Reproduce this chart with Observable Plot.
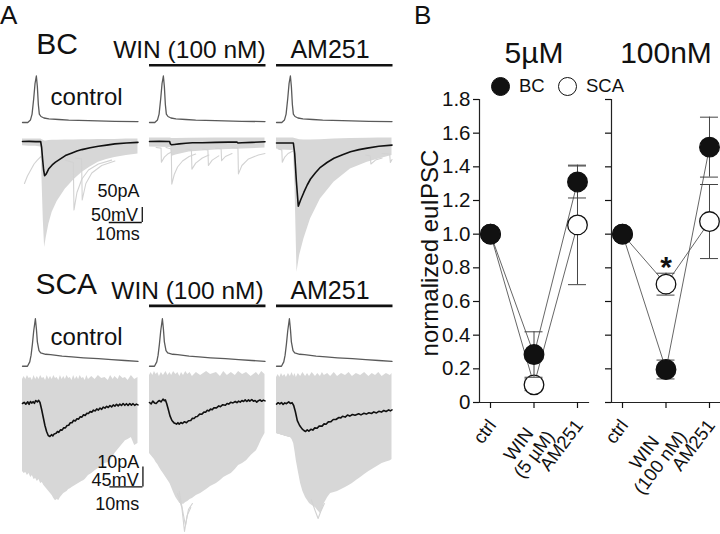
<!DOCTYPE html>
<html><head><meta charset="utf-8">
<script src="https://cdn.jsdelivr.net/npm/d3@7"></script>
<script src="https://cdn.jsdelivr.net/npm/@observablehq/plot@0.6"></script>
<style>
body{margin:0;background:#fff;}
#fig{position:relative;width:720px;height:534px;overflow:hidden;background:#fff;font-family:'Liberation Sans',Arial,Helvetica,sans-serif;color:#111;}
.lab{position:absolute;line-height:1;white-space:nowrap;}
</style></head>
<body><div id="fig"></div>
<script>
// ---------- Panel B data ----------
const conditions = ["ctrl", "WIN", "AM251"];
const labels5uM = ["ctrl", "WIN\u00a0\u00a0\n(5 µM)", "AM251"];
const labels100nM = ["ctrl", "WIN\u00a0\u00a0\u00a0\u00a0\n(100 nM)", "AM251"];
const yTicks = [0, 0.2, 0.4, 0.6, 0.8, 1.0, 1.2, 1.4, 1.6, 1.8];
const bc5 = [1.0, 0.285, 1.31];
const bc5Err = [0, 0.135, 0.095];
const sca5 = [1.0, 0.105, 1.055];
const sca5Err = [0, 0.035, 0.355];
const bc100 = [1.0, 0.196, 1.517];
const bc100Err = [0, 0.056, 0.178];
const sca100 = [1.0, 0.703, 1.075];
const sca100Err = [0, 0.065, 0.22];
const star100 = [{cond: "WIN", v: 0.80, label: "*"}];

// ---------- Panel A data (time in ms; AP in mV; current in pA) ----------
const traceConds = ["control", "WIN", "AM251"];
const apBC = [[0,0],[1.6,0],[2.4,8],[2.9,28],[3.4,80],[3.8,130],[4.2,155],[4.5,120],[4.8,60],[5.1,28],[5.6,20],[6.5,15],[8,12],[11,10],[14,8],[20,6],[28,4],[35,3]];
const apSCA = [[0,0],[1.5,0],[2.2,10],[2.6,25],[3.0,50],[3.4,80],[3.9,107],[4.2,85],[4.5,55],[5.0,35],[5.5,30],[7,27],[8.5,26],[12,23],[15,21],[18.5,19],[23,17],[27,15],[31,13],[35,11]];

const bcMeanControl = [[0,0],[2,0.5],[4,-0.5],[5.5,0],[5.8,-20],[6.1,-60],[6.4,-95],[6.7,-114],[7.2,-108],[7.9,-92],[9,-78],[10,-69],[11.5,-58],[13,-47],[15,-38],[16.5,-32],[18,-27],[20.5,-21],[23,-16],[25.5,-12],[28,-8],[31.5,-5],[35,-3]];
const bcMeanWIN = [[0,0],[3,0.5],[6.1,0],[6.3,-8],[6.7,-11],[7.5,-10],[9,-8],[11,-6],[13,-4],[16,-4],[20,-3],[24,-2],[26.5,-2],[26.8,-5],[28,-4],[31,-3],[35,-1]];
const bcMeanAM251 = [[0,-5],[3,-5],[5.1,-5],[5.5,-40],[6,-130],[6.6,-216],[7.3,-195],[8.3,-169],[9.3,-145],[10.3,-125],[11.8,-104],[13.3,-86],[15.3,-70],[17.4,-56],[20,-44],[22.4,-34],[25,-27],[27.5,-22],[31,-16],[35,-12]];

const bcEnvControl = [[0,8,-14],[2,8,-16],[4,8,-16],[5.6,8,-18],[5.9,6,-120],[6.3,4,-260],[6.7,2,-353],[7.2,2,-320],[8,3,-275],[9,4,-236],[10.5,4,-200],[13,5,-158],[15.5,5,-128],[18,6,-103],[20.5,6,-85],[23,7,-69],[25.5,7,-60],[28,7,-53],[31.5,8,-47],[35,8,-42]];
const bcEnvWIN = [[0,12,-18],[6.4,12,-20],[6.7,10,-50],[8,10,-45],[12,11,-35],[20,12,-28],[35,12,-22]];
const bcEnvAM251 = [[0,12,-25],[1.5,12,-28],[5.1,12,-30],[5.6,10,-150],[6.2,8,-436],[7,6,-380],[8.3,5,-325],[10.3,5,-258],[13.3,6,-192],[17.4,8,-136],[22.4,10,-92],[27.5,11,-69],[31,12,-58],[35,12,-47]];

const bcSpikesControl = [
  [[0.6,-140],[1.5,-115],[2.5,-95],[3.5,-75],[4.5,-62],[5.6,-50]],
  [[13,-62],[15.4,-70],[15.6,-228],[16.5,-170],[18,-125],[20,-95],[23,-75],[27,-62]],
  [[16,-55],[17.9,-58],[18.1,-195],[19.2,-140],[21,-105],[24,-80],[28,-65]]
];
const bcSpikesWIN = [
  [[2,-20],[3.5,-22],[3.6,-69],[4.5,-52],[5.5,-42],[6.5,-36]],
  [[5,-20],[6.6,-25],[6.75,-142],[7.5,-110],[8.5,-85],[10,-65],[12,-50],[14,-42]],
  [[11,-25],[12.7,-28],[12.85,-92],[14,-72],[16,-55],[18,-45]],
  [[16,-25],[17.7,-28],[17.85,-80],[19,-62],[21,-48]],
  [[20,-22],[21.7,-24],[21.85,-64],[23,-50],[25,-40]],
  [[25,-20],[26.8,-22],[26.95,-108],[28,-80],[30,-58],[33,-45],[35,-40]]
];
const bcSpikesAM251 = [
  [[0.5,-25],[1.6,-28],[1.75,-69],[2.5,-52],[3.5,-40],[5,-32]],
  [[27,-45],[28.4,-48],[28.6,-75],[30,-62],[32,-55]],
  [[32,-40],[34.3,-42],[34.5,-70],[35,-60]]
];

const scaMeanControl = [[0,0],[0.5,0.6],[1,-0.3],[1.6,0.8],[2,-0.4],[2.4,1],[2.8,0.2],[3.2,0.9],[3.6,0.1],[4,1.5],[4.5,0.8],[4.9,1.6],[5.3,0.5],[5.8,-3],[6.3,-7],[6.8,-11],[7.3,-14],[7.8,-16],[8.3,-16.5],[8.8,-15.6],[9.2,-16.2],[9.6,-15.2],[10.2,-14.9],[10.6,-14],[11,-14.4],[11.5,-13.2],[12,-13.3],[12.5,-12.1],[13,-12.2],[13.5,-11],[14,-10.9],[14.5,-9.6],[15,-9.6],[15.5,-8.4],[16,-8.7],[16.5,-7.6],[17,-7.8],[17.5,-6.6],[18,-6.8],[18.5,-5.6],[19,-6],[19.5,-4.9],[20,-5],[20.5,-4],[21,-4.4],[21.5,-3.3],[22,-3.7],[22.5,-2.7],[23,-3.3],[23.5,-2.3],[24,-2.9],[24.5,-1.8],[25,-2.3],[25.5,-1.4],[26,-2],[26.5,-1],[27,-1.7],[27.5,-0.7],[28,-1.3],[28.5,-0.4],[29,-1.2],[29.5,-0.3],[30,-1],[30.5,0],[31,-0.9],[31.5,-0.1],[32,-1],[32.5,0],[33,-0.8],[33.5,-0.1],[34,-0.9],[34.5,-0.3],[35,-0.7]];
const scaMeanWIN = [[0,0.5],[0.5,-0.2],[1,1.2],[1.5,0.3],[2,0],[2.5,0.9],[3,1.5],[3.5,0.8],[4.1,2.2],[4.5,1.4],[4.8,1.8],[5.2,0],[5.7,-3],[6.2,-6.2],[6.8,-8.5],[7.5,-9.8],[8.2,-10.3],[8.6,-9.6],[9,-10.3],[9.5,-9.5],[10,-10],[10.6,-9.1],[11.2,-9.6],[11.8,-8.6],[12.5,-8.5],[13,-7.4],[13.5,-7.5],[14,-6.6],[14.5,-6.5],[15.2,-5.3],[15.8,-5.4],[16.5,-4.3],[17,-4.4],[17.5,-3.4],[18,-3.7],[18.5,-2.8],[19,-3.1],[19.5,-2.2],[20.3,-2.2],[21,-1.2],[21.5,-1.6],[22.2,-0.6],[23,-0.9],[23.5,0],[24,-0.3],[24.6,0.6],[25.3,0.3],[26,1],[26.5,0.4],[27,1.2],[27.5,0.7],[28,1.5],[28.5,1],[29,1.8],[29.5,1],[30,1.8],[30.4,1.2],[31,2],[31.5,1.1],[32,1.5],[32.5,0.7],[33,1.4],[33.5,1.8],[34,1.1],[34.5,1.7],[35,1.3]];
const scaMeanAM251 = [[0,-0.3],[0.5,0.4],[1,-0.2],[1.5,0.5],[2,-0.5],[2.5,0.3],[3,-0.1],[3.7,0.8],[4.2,0],[4.7,0.4],[5.2,-1],[5.7,-4],[6.3,-8.6],[7,-11],[7.8,-12.8],[8.3,-13.5],[8.8,-14],[9.3,-13.2],[9.8,-13.8],[10.4,-12.9],[11,-13.3],[11.6,-12.2],[12.3,-12.4],[12.9,-11.3],[13.8,-11.3],[14.4,-10.2],[15,-10.4],[15.7,-9.2],[16.5,-9.1],[17.2,-8],[18,-8],[18.9,-7],[19.5,-7.2],[20,-6.4],[20.8,-6.8],[21.5,-5.8],[22.2,-6.3],[23,-5.5],[23.8,-5.9],[24.9,-5.1],[25.6,-5.7],[26.5,-4.9],[27.2,-5.3],[28,-4.6],[28.8,-5],[29.5,-4.2],[30.3,-4.7],[31,-3.9],[31.8,-4.3],[32.5,-3.5],[33.2,-4],[34,-3.2],[34.5,-3.7],[35,-3.2]];

const scaEnvControl = [[0,12,-34],[0.5,13.5,-35],[1,12,-34.5],[1.5,14,-36],[2,12.5,-35],[2.5,13,-37],[3,11.5,-36],[3.5,14,-38],[4,12,-37.5],[4.5,13.5,-39],[5,12,-38],[5.5,14,-40],[6,12.5,-39.5],[6.5,13,-41],[7,11.5,-42],[7.5,14,-43],[8,12,-44],[8.5,13.5,-45],[9,12,-46],[9.5,14,-47.5],[10,12.5,-48.6],[10.5,13,-48],[11,11.5,-48.5],[11.5,14,-47],[12,12,-46],[12.5,13.5,-45],[13,12,-44.5],[13.5,14,-44],[14,12.5,-43],[14.5,13,-42.6],[15,11.5,-42],[15.5,14,-41.5],[16,12,-41],[16.5,13.5,-40.5],[17,12,-40],[17.5,14,-39.5],[18,12.5,-39],[18.5,13,-38.6],[19,11.5,-38],[19.5,14,-37],[20,12,-36],[21,13.5,-35],[22,12,-33.6],[23,14,-32.5],[24,12.5,-31],[25,13,-30],[26,11.5,-29.5],[26.7,14,-28.6],[27.5,12,-26.5],[28,13.5,-25],[29,12,-23],[29.5,14,-22],[30.5,12.5,-20],[31.2,13,-18.6],[32,11.5,-18],[33,14,-17],[34,12,-21],[35,13,-20]];
const scaEnvWIN = [[0,14,-25],[0.5,15.5,-26],[1,14,-27],[1.5,16,-28],[2,14.5,-29.5],[2.5,15.5,-30.5],[3,13.5,-32],[3.6,15.5,-33.6],[4.2,14,-35],[5,16,-37],[5.6,14,-38.5],[6.2,15.5,-40],[6.7,14,-42],[7.3,16,-44.5],[8,14.5,-47],[8.6,15.5,-48.5],[9.2,13.5,-50],[9.7,15.5,-50],[10.3,14,-50.5],[11,16,-49.5],[11.6,14.5,-49],[12.3,15.5,-48],[13,13.5,-47.5],[14.2,15.5,-46],[15.5,14,-45],[17.3,16,-43],[18.5,14.5,-41.5],[20.3,15.5,-40],[21.5,13.5,-38.5],[22.5,16,-37],[23.6,14,-36],[24.8,15.5,-35],[26,14,-33],[27,16,-31],[28.2,14.5,-30],[29.4,15.5,-28.6],[30.8,13.5,-26],[32.4,15.5,-23.6],[33.2,14,-21],[34,16,-18],[35,14.5,-15]];
const scaEnvAM251 = [[0,13,-15],[0.5,14.5,-15.5],[1,13,-15.5],[1.5,15,-16],[2,13.5,-16],[2.5,14.5,-16.5],[3,13,-16.5],[3.6,15,-17],[4.2,13.5,-17],[4.7,15.5,-18],[5.2,13.5,-20],[5.6,15,-24],[6,13,-28.6],[6.6,15,-34],[7.3,13.5,-40],[8,15.5,-44],[8.8,13.5,-47],[9.4,15,-48.5],[10,13.5,-50],[10.8,15.5,-51],[11.8,13.5,-52],[12.5,15,-53.5],[13.3,13.5,-55],[13.9,15.5,-53],[14.5,14,-50],[15.5,15,-47],[16.4,13.5,-45],[17.5,15.5,-44.5],[18.5,13.5,-44],[19.7,15,-43],[20.9,14,-42],[22,15.5,-41],[23,13.5,-40],[24.2,15,-38.5],[25.5,14,-37],[26.7,15.5,-35.5],[28,13.5,-34],[29,15,-33],[30,14,-32],[31,15.5,-31],[32,13.5,-30],[33.3,15,-29.3],[34.5,14,-28.6],[35,15,-28]];
const scaSpikesWIN = [
  [[8.5,-45],[9.8,-52],[10.6,-64],[11.4,-56],[12.5,-52]],
  [[9,-44],[10.2,-55],[10.9,-61],[11.8,-53],[13,-50]]
];
const scaSpikesAM251 = [
  [[10.5,-48],[11.8,-54],[12.6,-57.5],[13.4,-54],[14.5,-50]]
];

// scale bars (ms, pA) and labels
const barBC = {t: [26.3, 36.3], i: [-270, -220]};
const barSCA = {t: [26.5, 36.5], i: [-41.7, -31.7]};
const barLabelsBC = [{t: 35.5, v: -185, label: "50pA"}, {t: 35.0, v: -266, label: "50mV"}, {t: 35.5, v: -328, label: "10ms"}];
const barLabelsSCA = [{t: 35.4, v: -32, label: "10pA"}, {t: 35.2, v: -41.2, label: "45mV"}, {t: 35.4, v: -53.4, label: "10ms"}];
const drugBars = [{cond: "WIN", t1: 0, t2: 35.3}, {cond: "AM251", t1: 0, t2: 35.3}];

// ---------- helpers ----------
const FONT = "'Liberation Sans', Arial, Helvetica, sans-serif";
const fig = document.getElementById("fig");
function put(el, x, y) { el.style.position = "absolute"; el.style.left = x + "px"; el.style.top = y + "px"; fig.appendChild(el); }
function label(text, x, baseline, size, anchor = "start", extra = "") {
  const d = document.createElement("div");
  d.className = "lab"; d.textContent = text;
  d.style.fontSize = size + "px";
  d.style.left = x + "px"; d.style.top = (baseline - 0.8465 * size) + "px";
  if (anchor === "middle") d.style.transform = "translateX(-50%)";
  if (anchor === "end") d.style.transform = "translateX(-100%)";
  if (extra) d.style.cssText += extra;
  fig.appendChild(d);
  return d;
}
const pts = (arr, cond, id = 0) => arr.map(([t, v]) => ({cond, t, v, id: cond + id}));
const env = (arr, cond) => arr.map(([t, hi, lo]) => ({cond, t, hi, lo}));

function tracePlot(marks, [lo, hi], k, zeroPx) {
  const mt = 40, mb = 40;
  const el = Plot.plot({
    width: 400, height: (hi - lo) * k + mt + mb,
    marginLeft: 22, marginRight: 7.5, marginTop: mt, marginBottom: mb,
    style: {background: "transparent", overflow: "visible", fontFamily: FONT},
    x: {domain: [0, 35.3], axis: null},
    y: {domain: [lo, hi], axis: null},
    fx: {domain: traceConds, axis: null, paddingInner: 0.083, paddingOuter: 0, round: false},
    marks
  });
  put(el, 0, zeroPx - hi * k - mt);
}

function apMarks(ap, rowLabel, rowLabelPos, winPos, amPos, ctrlPos, barV) {
  const apData = traceConds.flatMap(c => pts(ap, c));
  return [
    Plot.line(apData, {x: "t", y: "v", fx: "cond", z: "id", stroke: "#5a5a5a", strokeWidth: 1.3}),
    Plot.ruleY(drugBars, {fx: "cond", x1: "t1", x2: "t2", y: barV, stroke: "#111", strokeWidth: 2.6}),
    Plot.text([{cond: "control", ...rowLabelPos, label: rowLabel}], {fx: "cond", x: "t", y: "v", text: "label", textAnchor: "start", lineAnchor: "bottom", fontSize: 30, fill: "#111"}),
    Plot.text([{cond: "WIN", ...winPos, label: "WIN (100 nM)"}], {fx: "cond", x: "t", y: "v", text: "label", textAnchor: "end", lineAnchor: "bottom", fontSize: 24.5, fill: "#111"}),
    Plot.text([{cond: "AM251", ...amPos, label: "AM251"}], {fx: "cond", x: "t", y: "v", text: "label", textAnchor: "start", lineAnchor: "bottom", fontSize: 25, fill: "#111"}),
    Plot.text([{cond: "control", ...ctrlPos, label: "control"}], {fx: "cond", x: "t", y: "v", text: "label", textAnchor: "start", lineAnchor: "bottom", fontSize: 24, fill: "#111"})
  ];
}

function currentMarks(means, envs, spikes, bar, barLabels) {
  const meanData = traceConds.flatMap((c, i) => pts(means[i], c));
  const envData = traceConds.flatMap((c, i) => env(envs[i], c));
  const spikeData = traceConds.flatMap((c, i) => (spikes[i] || []).flatMap((s, j) => pts(s, c, j)));
  const ctl = [{cond: "control"}];
  return [
    Plot.areaY(envData, {fx: "cond", x: "t", y1: "lo", y2: "hi", fill: "#d7d7d7", curve: "linear"}),
    Plot.line(spikeData, {fx: "cond", x: "t", y: "v", z: "id", stroke: "#d2d2d2", strokeWidth: 1.1}),
    Plot.line(meanData, {fx: "cond", x: "t", y: "v", z: "cond", stroke: "#111", strokeWidth: 1.6}),
    Plot.ruleY(ctl, {fx: "cond", x1: bar.t[0], x2: bar.t[1], y: bar.i[0], stroke: "#111", strokeWidth: 1.3}),
    Plot.ruleX(ctl, {fx: "cond", x: bar.t[1], y1: bar.i[0], y2: bar.i[1], stroke: "#111", strokeWidth: 1.3}),
    Plot.text(barLabels.map(d => ({cond: "control", ...d})), {fx: "cond", x: "t", y: "v", text: "label", textAnchor: "end", lineAnchor: "bottom", fontSize: 18, fill: "#111"})
  ];
}

// ---------- Panel A ----------
tracePlot(apMarks(apBC, "BC", {t: 4.2, v: 227}, {t: 35.2, v: 214}, {t: 4.2, v: 214}, {t: 8.5, v: 57}, 190.7), [-20, 240], 0.3, 121.5);
tracePlot(currentMarks([bcMeanControl, bcMeanWIN, bcMeanAM251], [bcEnvControl, bcEnvWIN, bcEnvAM251], [bcSpikesControl, bcSpikesWIN, bcSpikesAM251], barBC, barLabelsBC), [-470, 30], 0.3, 140.5);
tracePlot(apMarks(apSCA, "SCA", {t: 3.9, v: 162}, {t: 34.6, v: 151}, {t: 4.2, v: 151}, {t: 8.5, v: 47}, 135.8), [-20, 175], 20 / 45, 366);
tracePlot(currentMarks([scaMeanControl, scaMeanWIN, scaMeanAM251], [scaEnvControl, scaEnvWIN, scaEnvAM251], [[], scaSpikesWIN, scaSpikesAM251], barSCA, barLabelsSCA), [-70, 20], 2, 402.7);

// ---------- Panel B ----------
function rowsOf(vals, errs, cell) {
  return conditions.map((c, i) => ({cond: c, cell, v: vals[i], lo: vals[i] - errs[i], hi: vals[i] + errs[i], e: errs[i]}));
}
const yFmt = d => d === 0 ? "0" : d.toFixed(1);
function panelB(left, width, marginLeft, marginRight, bc, bcErr, sca, scaErr, xLabels, showY, extra) {
  const bcRows = rowsOf(bc, bcErr, "BC");
  const scaRows = rowsOf(sca, scaErr, "SCA");
  const errMarks = rows => {
    const r = rows.filter(d => d.e > 0);
    return [
      Plot.ruleX(r, {x: "cond", y1: "lo", y2: "hi", stroke: "#444", strokeWidth: 1}),
      Plot.ruleY(r, {y: "hi", x1: "cond", x2: "cond", insetLeft: -9, insetRight: -9, stroke: "#444", strokeWidth: 1}),
      Plot.ruleY(r, {y: "lo", x1: "cond", x2: "cond", insetLeft: -9, insetRight: -9, stroke: "#444", strokeWidth: 1})
    ];
  };
  const el = Plot.plot({
    width, height: 534, marginLeft, marginRight, marginTop: 99, marginBottom: 132,
    style: {background: "transparent", overflow: "visible", fontFamily: FONT, color: "#111"},
    x: {type: "point", domain: conditions, padding: 0.253, round: false},
    y: {domain: [0, 1.8]},
    marks: [
      Plot.frame({anchor: "left", stroke: "#222", strokeWidth: 1.2}),
      Plot.frame({anchor: "bottom", stroke: "#222", strokeWidth: 1.2}),
      Plot.axisY({ticks: yTicks, tickSize: 6, label: null, strokeWidth: 1.2, tickFormat: () => ""}),
      Plot.axisX({tickSize: 6, label: null, strokeWidth: 1.2, tickFormat: () => ""}),
      ...(showY ? [Plot.text(yTicks, {y: d => d, text: yFmt, frameAnchor: "left", textAnchor: "end", lineAnchor: "middle", dx: -9, fontSize: 20.5, fill: "#111"})] : []),
      Plot.text(conditions, {x: d => d, text: d => xLabels[conditions.indexOf(d)], frameAnchor: "bottom", rotate: -53, textAnchor: "end", lineAnchor: "top", dx: -4, dy: 15, fontSize: 18.5, fill: "#111"}),
      Plot.line(bcRows, {x: "cond", y: "v", stroke: "#555", strokeWidth: 0.9}),
      Plot.line(scaRows, {x: "cond", y: "v", stroke: "#555", strokeWidth: 0.9}),
      ...errMarks(scaRows),
      Plot.dot(scaRows, {x: "cond", y: "v", r: 9.8, fill: "white", stroke: "#111", strokeWidth: 1.3}),
      ...errMarks(bcRows),
      Plot.dot(bcRows, {x: "cond", y: "v", r: 9.8, fill: "#111", stroke: "#111", strokeWidth: 1.3}),
      ...(extra || [])
    ]
  });
  put(el, left, 0);
}
panelB(430, 168, 49, 10, bc5, bc5Err, sca5, sca5Err, labels5uM, true);
panelB(600, 120, 11, 0, bc100, bc100Err, sca100, sca100Err, labels100nM, false, [
  Plot.text(star100, {x: "cond", y: "v", text: "label", fontSize: 30, fontWeight: "bold", fill: "#111"})
]);

// ---------- labels ----------
label("A", 0, 24, 26);
label("B", 414, 24, 26);
label("5µM", 534, 63.3, 30, "middle");
label("100nM", 666, 63.3, 30, "middle");
// legend
function legendDot(cx, cy, fill) {
  const d = document.createElement("div");
  d.style.cssText = `position:absolute;left:${cx - 9.5}px;top:${cy - 9.5}px;width:17px;height:17px;border-radius:50%;border:1.3px solid #111;background:${fill};`;
  fig.appendChild(d);
}
legendDot(500.3, 86, "#111");
label("BC", 519, 92.5, 18.5);
legendDot(567.7, 86, "#fff");
label("SCA", 586, 92.5, 18.5);
// y label
const yl = document.createElement("div");
yl.className = "lab"; yl.textContent = "normalized euIPSC";
yl.style.cssText += "font-size:24px;left:430px;top:253px;transform:translate(-50%,-50%) rotate(-90deg);";
fig.appendChild(yl);
</script>
</body></html>
